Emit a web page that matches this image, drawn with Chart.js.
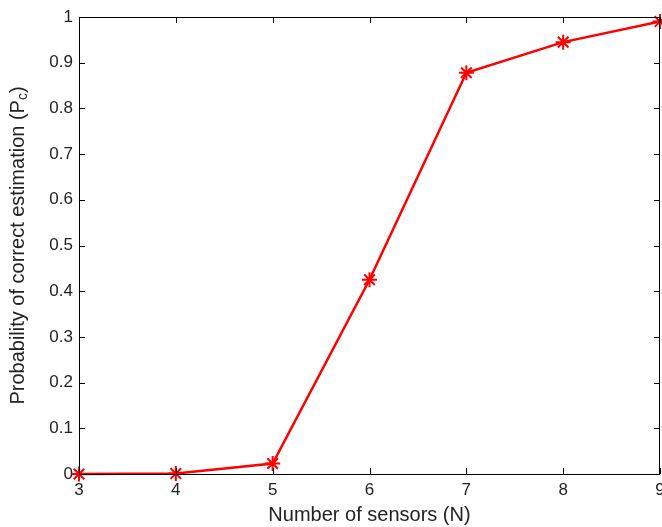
<!DOCTYPE html>
<html>
<head>
<meta charset="utf-8">
<script src="https://cdn.jsdelivr.net/npm/chart.js@4"></script>
<style>
  html, body { margin: 0; padding: 0; background: #fff; }
  #wrap { width: 662px; height: 527px; }
</style>
</head>
<body>
<div id="wrap"><canvas id="pc"></canvas></div>
<script>
// number of sensors vs. probability of correct estimation
const sensorCounts = [3, 4, 5, 6, 7, 8, 9];
const probCorrect  = [0, 0.001, 0.023, 0.425, 0.878, 0.945, 0.99];

const xTicks = [3, 4, 5, 6, 7, 8, 9];
const yTicks = [0, 0.1, 0.2, 0.3, 0.4, 0.5, 0.6, 0.7, 0.8, 0.9, 1];

const FONT = "'Liberation Sans', Arial, sans-serif";
const INK = '#000';
const LINE_RED = '#ff0000';

// box around the axes with short inward ticks on all four sides
const boxPlugin = {
  id: 'box',
  afterDraw(chart) {
    const { ctx, chartArea: a, scales: { x, y } } = chart;
    const len = 6;
    ctx.save();
    ctx.strokeStyle = INK;
    ctx.lineWidth = 1;
    ctx.strokeRect(a.left + 0.5, a.top + 0.5, a.right - a.left - 1, a.bottom - a.top);
    ctx.beginPath();
    xTicks.forEach(v => {
      const px = Math.round(x.getPixelForValue(v)) + 0.5;
      ctx.moveTo(px, a.bottom); ctx.lineTo(px, a.bottom - len);
      ctx.moveTo(px, a.top); ctx.lineTo(px, a.top + len);
    });
    yTicks.forEach(v => {
      const py = Math.round(y.getPixelForValue(v)) + 0.5;
      ctx.moveTo(a.left, py); ctx.lineTo(a.left + len, py);
      ctx.moveTo(a.right, py); ctx.lineTo(a.right - len, py);
    });
    ctx.stroke();

    // y title with subscript c
    const size = 20;
    const main = 'Probability of correct estimation (P';
    ctx.font = size + 'px ' + FONT;
    const w1 = ctx.measureText(main).width;
    ctx.font = Math.round(size * 0.7) + 'px ' + FONT;
    const w2 = ctx.measureText('c').width;
    ctx.font = size + 'px ' + FONT;
    const w3 = ctx.measureText(')').width;
    const total = w1 + w2 + w3;
    ctx.translate(18, (a.top + a.bottom) / 2);
    ctx.rotate(-Math.PI / 2);
    ctx.fillStyle = '#222';
    ctx.textBaseline = 'middle';
    ctx.textAlign = 'left';
    let cx = -total / 2;
    ctx.fillText(main, cx, 0);
    cx += w1;
    ctx.font = Math.round(size * 0.7) + 'px ' + FONT;
    ctx.fillText('c', cx, 5);
    cx += w2;
    ctx.font = size + 'px ' + FONT;
    ctx.fillText(')', cx, 0);
    ctx.restore();
  }
};

new Chart(document.getElementById('pc'), {
  type: 'line',
  data: {
    datasets: [{
      data: sensorCounts.map((n, i) => ({ x: n, y: probCorrect[i] })),
      borderColor: LINE_RED,
      borderWidth: 2.5,
      pointStyle: 'star',
      pointRadius: 7.5,
      pointBorderWidth: 2,
      pointBorderColor: LINE_RED,
      pointBackgroundColor: LINE_RED,
      tension: 0,
      clip: false
    }]
  },
  options: {
    responsive: true,
    maintainAspectRatio: false,
    animation: false,
    devicePixelRatio: 1,
    layout: { autoPadding: false, padding: { top: 17, right: 2, left: 0, bottom: 0 } },
    plugins: { legend: { display: false }, tooltip: { enabled: false } },
    scales: {
      x: {
        type: 'linear',
        min: 3, max: 9,
        afterBuildTicks: s => { s.ticks = xTicks.map(v => ({ value: v })); },
        afterFit: s => { s.height = 53; s.paddingLeft = 0; s.paddingRight = 0; },
        grid: { display: false, drawTicks: false },
        border: { display: false },
        ticks: { color: '#222', font: { family: FONT, size: 17 }, padding: 6, maxRotation: 0 },
        title: {
          display: true,
          text: 'Number of sensors (N)',
          color: '#222',
          font: { family: FONT, size: 20 },
          padding: { top: 0, bottom: 0 }
        }
      },
      y: {
        min: 0, max: 1,
        afterBuildTicks: s => { s.ticks = yTicks.map(v => ({ value: v })); },
        afterFit: s => { s.width = 79; s.paddingTop = 0; s.paddingBottom = 0; },
        grid: { display: false, drawTicks: false },
        border: { display: false },
        ticks: {
          color: '#222',
          font: { family: FONT, size: 17 },
          padding: 6,
          callback: v => String(+v.toFixed(1))
        }
      }
    }
  },
  plugins: [boxPlugin]
});
</script>
</body>
</html>
